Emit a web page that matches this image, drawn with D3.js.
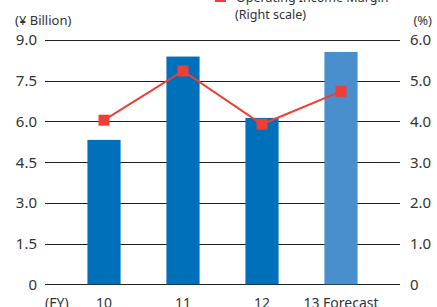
<!DOCTYPE html>
<html>
<head>
<meta charset="utf-8">
<script src="https://cdn.jsdelivr.net/npm/d3@7"></script>
<style>
  body { margin: 0; background: #fff; }
  svg text { font-family: "Noto Sans", sans-serif; fill: #333; }
</style>
</head>
<body>
<div id="chart"></div>
<script>
var years = ["10", "11", "12", "13 Forecast"];
var income = [5.32, 8.39, 6.13, 8.56];
var margin = [4.03, 5.24, 3.93, 4.74];
var leftTicks = [0, 1.5, 3.0, 4.5, 6.0, 7.5, 9.0];
var rightTicks = [0, 1.0, 2.0, 3.0, 4.0, 5.0, 6.0];

var W = 437, H = 307;
var LEFT = 45, RIGHT = 400, TOP = 40, BOTTOM = 284.3;

var svg = d3.select("#chart").append("svg")
	.attr("width", W)
	.attr("height", H);

var x = d3.scaleBand()
	.domain(years)
	.range([LEFT, RIGHT])
	.paddingInner(0.58)
	.paddingOuter(0.537);

var yL = d3.scaleLinear().domain([0, 9]).range([BOTTOM, TOP]);
var yR = d3.scaleLinear().domain([0, 6]).range([BOTTOM, TOP]);

// grid lines
svg.selectAll("line.grid")
	.data(leftTicks)
	.enter().append("line")
	.attr("class", "grid")
	.attr("x1", LEFT)
	.attr("x2", RIGHT)
	.attr("y1", function(d) { return Math.round(yL(d)) + 0.5; })
	.attr("y2", function(d) { return Math.round(yL(d)) + 0.5; })
	.style("stroke", "#222")
	.style("stroke-width", 1.2);

// left ticks
svg.selectAll("text.lt")
	.data(leftTicks)
	.enter().append("text")
	.attr("class", "lt")
	.attr("x", 37)
	.attr("y", function(d) { return yL(d); })
	.attr("dy", "0.36em")
	.attr("text-anchor", "end")
	.style("font-size", "15px")
	.text(function(d) { return d === 0 ? "0" : d.toFixed(1); });

// right ticks
svg.selectAll("text.rt")
	.data(rightTicks)
	.enter().append("text")
	.attr("class", "rt")
	.attr("x", 410)
	.attr("y", function(d) { return yR(d); })
	.attr("dy", "0.36em")
	.style("font-size", "15px")
	.text(function(d) { return d === 0 ? "0" : d.toFixed(1); });

// bars
svg.selectAll("rect.bar")
	.data(income)
	.enter().append("rect")
	.attr("class", "bar")
	.attr("x", function(d, i) { return x(years[i]); })
	.attr("width", x.bandwidth())
	.attr("y", function(d) { return yL(d); })
	.attr("height", function(d) { return yL(0) - yL(d); })
	.style("fill", function(d, i) { return i === 3 ? "#4a8fcd" : "#0070bb"; });

// margin line
var line = d3.line()
	.x(function(d, i) { return x(years[i]) + x.bandwidth() / 2; })
	.y(function(d) { return yR(d); });

svg.append("path")
	.datum(margin)
	.attr("d", line)
	.style("fill", "none")
	.style("stroke", "#ee3e35")
	.style("stroke-width", 2);

svg.selectAll("rect.mk")
	.data(margin)
	.enter().append("rect")
	.attr("class", "mk")
	.attr("x", function(d, i) { return x(years[i]) + x.bandwidth() / 2 - 5.5; })
	.attr("y", function(d) { return yR(d) - 5.5; })
	.attr("width", 11)
	.attr("height", 11)
	.style("fill", "#ee3e35");

// x labels
svg.selectAll("text.xl")
	.data(years)
	.enter().append("text")
	.attr("class", "xl")
	.attr("x", function(d) { return x(d) + x.bandwidth() / 2; })
	.attr("y", 308)
	.attr("text-anchor", "middle")
	.style("font-size", "14px")
	.text(function(d) { return d; });

svg.append("text")
	.attr("x", 45)
	.attr("y", 308)
	.style("font-size", "14px")
	.text("(FY)");

// units
svg.append("text")
	.attr("x", 15)
	.attr("y", 25)
	.style("font-size", "13px")
	.text("(¥ Billion)");

svg.append("text")
	.attr("x", 432)
	.attr("y", 25)
	.attr("text-anchor", "end")
	.style("font-size", "13px")
	.text("(%)");

// cut-off title
svg.append("text")
	.attr("x", 20)
	.attr("y", -3)
	.style("font-size", "15px")
	.style("font-weight", "bold")
	.text("Operating Income");

// legend
svg.append("rect")
	.attr("x", 215)
	.attr("y", -9)
	.attr("width", 11)
	.attr("height", 11)
	.style("fill", "#ee3e35");

svg.append("text")
	.attr("x", 236)
	.attr("y", 2)
	.style("font-size", "12.5px")
	.text("Operating Income Margin");

svg.append("text")
	.attr("x", 235)
	.attr("y", 19)
	.style("font-size", "12.5px")
	.text("(Right scale)");
</script>
</body>
</html>
